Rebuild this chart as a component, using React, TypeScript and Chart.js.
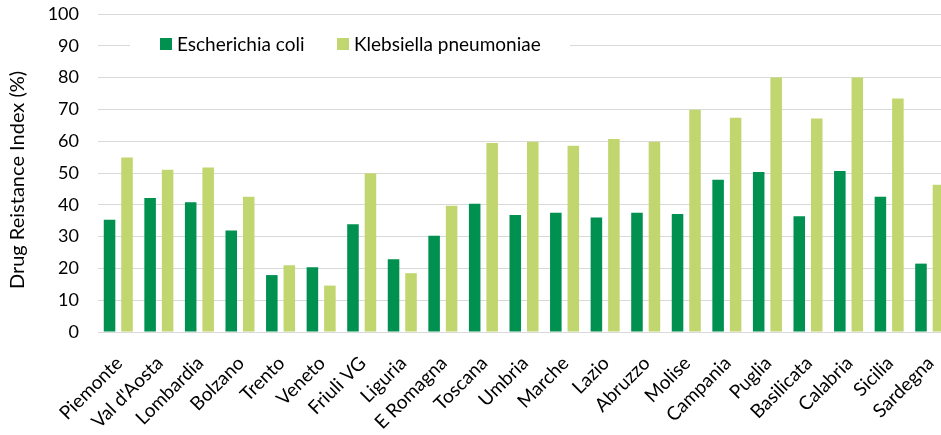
import React, { useEffect, useRef } from "react";
import { Chart, registerables } from "chart.js";

Chart.register(...registerables);

const categories = [
  "Piemonte", "Val d'Aosta", "Lombardia", "Bolzano", "Trento", "Veneto", "Friuli VG",
  "Liguria", "E Romagna", "Toscana", "Umbria", "Marche", "Lazio", "Abruzzo", "Molise",
  "Campania", "Puglia", "Basilicata", "Calabria", "Sicilia", "Sardegna",
];

const eColi = [
  35.3, 42.1, 40.8, 31.9, 17.9, 20.4, 33.9, 22.9, 30.3, 40.3, 36.8,
  37.5, 36.0, 37.5, 37.1, 47.9, 50.3, 36.4, 50.6, 42.5, 21.5,
];

const kPneumoniae = [
  54.9, 51.0, 51.7, 42.5, 21.0, 14.6, 49.9, 18.5, 39.7, 59.4, 59.8,
  58.6, 60.7, 59.8, 69.9, 67.4, 80.0, 67.1, 80.0, 73.4, 46.3,
];

const yTicks = [0, 10, 20, 30, 40, 50, 60, 70, 80, 90, 100];

const yTitle = "Drug Reistance Index (%)";
const seriesNames = ["Escherichia coli", "Klebsiella pneumoniae"];
const seriesColors = ["#00904F", "#C2D670"];

const FONT = "Lato, 'Open Sans', sans-serif";

const legendPlugin = {
  id: "insideLegend",
  afterDatasetsDraw(chart: any) {
    const ctx = chart.ctx as CanvasRenderingContext2D;
    ctx.save();
    ctx.fillStyle = "#ffffff";
    ctx.fillRect(130, 30, 440, 28);
    ctx.font = `19px ${FONT}`;
    ctx.textBaseline = "middle";
    ctx.textAlign = "left";
    const xs = [160, 337];
    const y = 44;
    seriesNames.forEach((name, i) => {
      ctx.fillStyle = seriesColors[i];
      ctx.fillRect(xs[i], y - 6, 12, 12);
      ctx.fillStyle = "#000000";
      ctx.fillText(name, xs[i] + 17, y + 1);
    });
    ctx.restore();
  },
};

const yTitlePlugin = {
  id: "yTitle",
  afterDraw(chart: any) {
    const ctx = chart.ctx as CanvasRenderingContext2D;
    ctx.save();
    ctx.translate(18, 180);
    ctx.rotate(-Math.PI / 2);
    ctx.font = `20px ${FONT}`;
    ctx.fillStyle = "#000000";
    ctx.textAlign = "center";
    ctx.textBaseline = "middle";
    ctx.fillText(yTitle, 0, 0);
    ctx.restore();
  },
};

export default function App() {
  const canvasRef = useRef<HTMLCanvasElement | null>(null);

  useEffect(() => {
    if (!canvasRef.current) return;
    const chart = new Chart(canvasRef.current, {
      type: "bar",
      data: {
        labels: categories,
        datasets: [
          {
            label: seriesNames[0],
            data: eColi,
            backgroundColor: seriesColors[0],
            barPercentage: 0.66,
            categoryPercentage: 0.862,
          },
          {
            label: seriesNames[1],
            data: kPneumoniae,
            backgroundColor: seriesColors[1],
            barPercentage: 0.66,
            categoryPercentage: 0.862,
          },
        ],
      },
      options: {
        responsive: false,
        animation: false,
        devicePixelRatio: 1,
        layout: { padding: { top: 14, right: 10, bottom: 0, left: 0 } },
        plugins: {
          legend: { display: false },
          tooltip: { enabled: false },
        },
        scales: {
          x: {
            grid: { display: false, drawTicks: false },
            border: { display: false },
            ticks: {
              minRotation: 45,
              maxRotation: 45,
              autoSkip: false,
              padding: 20,
              labelOffset: 1,
              color: "#000000",
              font: { family: FONT, size: 19 },
            },
            afterFit: (scale: any) => {
              scale.height = 103;
              scale.paddingTop = 0;
              scale.paddingLeft = 0;
              scale.paddingRight = 0;
            },
          },
          y: {
            min: 0,
            max: 100,
            afterBuildTicks: (scale: any) => {
              scale.ticks = yTicks.map((v) => ({ value: v }));
            },
            grid: { color: "#D9D9D9", lineWidth: 1, drawTicks: false },
            border: { display: false },
            ticks: {
              padding: 19,
              color: "#000000",
              font: { family: FONT, size: 18 },
            },
            afterFit: (scale: any) => {
              scale.width = 98;
              scale.paddingTop = 0;
              scale.paddingBottom = 0;
            },
          },
        },
      },
      plugins: [legendPlugin, yTitlePlugin],
    });
    return () => chart.destroy();
  }, []);

  return (
    <div style={{ position: "fixed", left: 0, top: 0, width: "100vw", height: "100vh", overflow: "hidden", background: "#fff" }}>
      <canvas ref={canvasRef} width={960} height={435} style={{ display: "block" }} />
    </div>
  );
}
